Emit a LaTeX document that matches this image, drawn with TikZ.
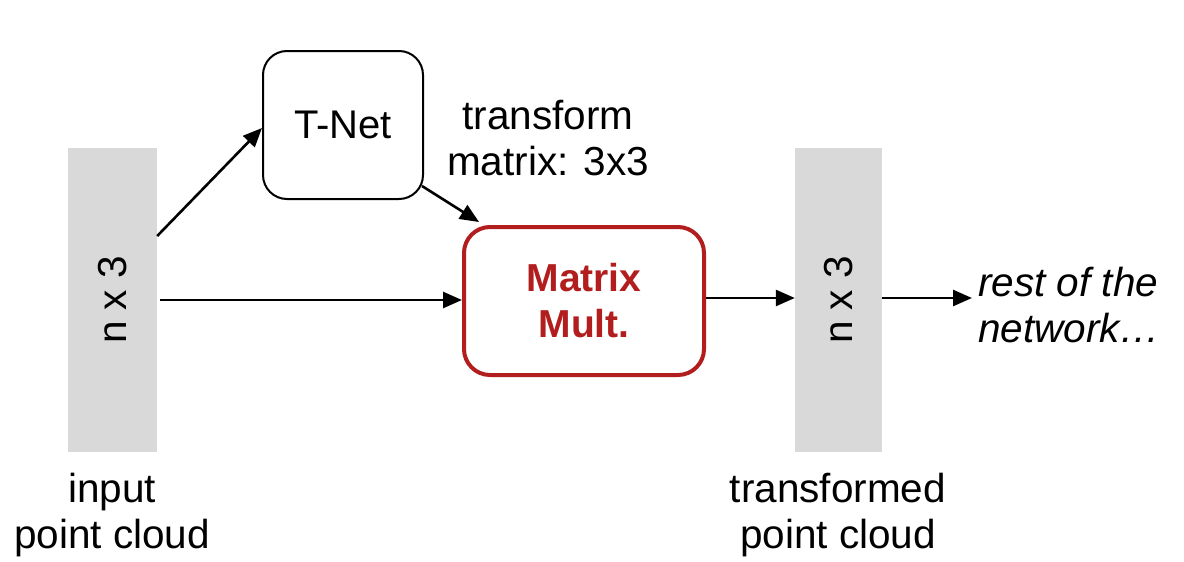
\documentclass[tikz,border=0pt]{standalone}
\usepackage{fontspec}
\setmainfont{Liberation Sans}
\usetikzlibrary{arrows.meta}
\definecolor{barGray}{RGB}{217,217,217}
\definecolor{mmRed}{RGB}{178,30,30}
\tikzset{
  lbl/.style={font=\fontsize{40.5}{46}\selectfont, align=center, inner sep=0pt},
  bar/.style={fill=barGray, draw=none, minimum height=304pt, inner sep=0pt},
  tnetbox/.style={draw=black, line width=2pt, rounded corners=24pt, minimum width=160pt, minimum height=148pt, font=\fontsize{40}{46}\selectfont},
  mmbox/.style={draw=mmRed, line width=4pt, rounded corners=26pt, minimum width=240pt, minimum height=148pt, text=mmRed, font=\bfseries\fontsize{39}{46}\selectfont, align=center},
  arr/.style={draw=black, line width=2.6pt, -{Triangle[length=19pt, width=16pt]}},
}
\begin{document}
\begin{tikzpicture}[x=1pt, y=-1pt]
\useasboundingbox (0,0) rectangle (1184,562);

% point-cloud bars
\node[bar, minimum width=89pt] (inbar) at (112.5,300) {};
\node[bar, minimum width=87pt] (outbar) at (838.5,300) {};
\node[lbl, rotate=90] (inbartxt) at (113,300) {n x 3};
\node[lbl, rotate=90] (outbartxt) at (839,300) {n x 3};

% processing blocks
\node[tnetbox] (tnet) at (343,125) {T-Net};
\node[mmbox] (mm) at (584,301) {Matrix\\Mult.};

% labels
\node[lbl] (tmlbl) at (548,138) {transform\\matrix: 3x3};
\node[lbl, align=left, anchor=west, font=\itshape\fontsize{40.5}{46}\selectfont] (rest) at (978,305) {rest of the\\network\dots};
\node[lbl] (inlbl) at (112,515) {input\\point cloud};
\node[lbl] (outlbl) at (838,515) {transformed\\point cloud};

% anchor points on the horizontal flow line
\coordinate (flowin) at ([xshift=3pt]inbar.east |- 0,300);
\coordinate (flowmm) at (mm.east |- 0,298);
\coordinate (flowout) at (outbar.east |- 0,298);

% connectors
\draw[arr] ([yshift=64pt]inbar.east) -- ([yshift=-3pt]tnet.west);
\draw[arr] (flowin) -- (flowin -| mm.west);
\draw[arr] ([shift={(-2pt,14pt)}]tnet.south east) -- ([shift={(17pt,3pt)}]mm.north west);
\draw[arr] (flowmm) -- (flowmm -| outbar.west);
\draw[arr] (flowout) -- ([xshift=-6pt]flowout -| rest.west);
\end{tikzpicture}
\end{document}
